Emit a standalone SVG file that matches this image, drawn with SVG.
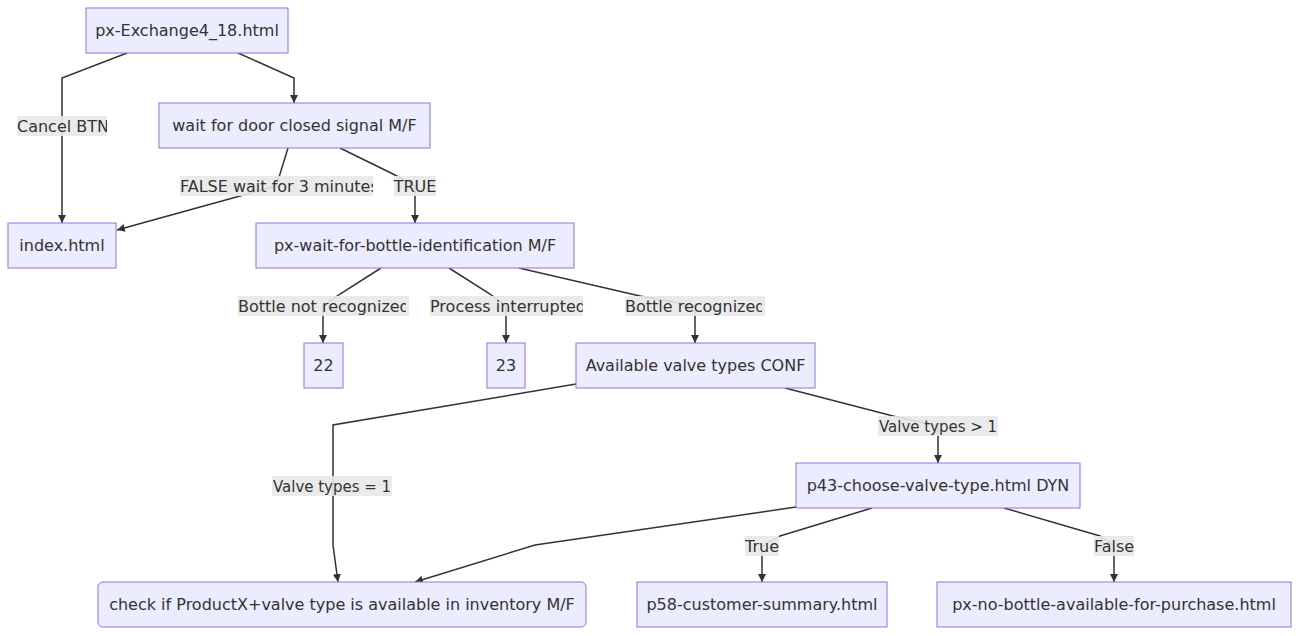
<svg xmlns="http://www.w3.org/2000/svg" width="1298" height="636" viewBox="0 0 1298 636">
<style>
.node rect{fill:#ECECFF;stroke:#9370DB;stroke-width:1}
.node text,.lbl text{font-family:"DejaVu Sans",sans-serif;font-size:16px;fill:#333;text-anchor:middle}
.edge{fill:none;stroke:#333;stroke-width:1.5;marker-end:url(#arr)}
.lbl rect{fill:#e8e8e8;fill-opacity:0.9}
</style>
<defs>
<marker id="arr" viewBox="0 0 10 10" refX="10" refY="5" markerWidth="8" markerHeight="8" markerUnits="userSpaceOnUse" orient="auto">
<path d="M0,0 L10,5 L0,10 z" fill="#333"/>
</marker>
<clipPath id="c1"><rect x="238" y="296" width="168" height="20"/></clipPath>
<clipPath id="c2"><rect x="430" y="296" width="153" height="20"/></clipPath>
<clipPath id="c3"><rect x="625" y="296" width="137" height="20"/></clipPath>
<clipPath id="c4"><rect x="180" y="176" width="193" height="20"/></clipPath>
<clipPath id="c5"><rect x="17" y="116" width="90" height="20"/></clipPath>
</defs>
<g id="connectors">
<path class="edge" d="M127,53 L62,78 L62,223"/>
<path class="edge" d="M238,53 L294,78 L294,103"/>
<path class="edge" d="M288,148 L280,174 L276,186 L240,196 L117,230"/>
<path class="edge" d="M340,148 L393,174 L415,186 L415,223"/>
<path class="edge" d="M381,268 L340,294 L323,306 L323,343"/>
<path class="edge" d="M449,268 L490,294 L506,306 L506,343"/>
<path class="edge" d="M519,268 L640,296 L695,306 L695,343"/>
<path class="edge" d="M576,384 L333,425 L333,545 L338,582"/>
<path class="edge" d="M785,388 L893,416 L938,426 L938,463"/>
<path class="edge" d="M796,507 L535,545 L415,582"/>
<path class="edge" d="M872,508 L780,536 L762,546 L762,582"/>
<path class="edge" d="M1004,508 L1100,536 L1114,546 L1114,582"/>
</g>
<g id="edge-labels">
<g class="lbl"><rect x="17" y="116" width="90" height="20"/><text x="17" y="132" style="text-anchor:start" clip-path="url(#c5)">Cancel BTN</text></g>
<g class="lbl"><rect x="180" y="176" width="193" height="20"/><text x="180" y="192" style="text-anchor:start" clip-path="url(#c4)">FALSE wait for 3 minutes</text></g>
<g class="lbl"><rect x="394" y="176" width="42" height="20"/><text x="415" y="192">TRUE</text></g>
<g class="lbl"><rect x="238" y="296" width="171" height="20"/><text x="238" y="312" style="text-anchor:start" clip-path="url(#c1)">Bottle not recognized</text></g>
<g class="lbl"><rect x="430" y="296" width="153" height="20"/><text x="430" y="312" style="text-anchor:start" clip-path="url(#c2)">Process interrupted</text></g>
<g class="lbl"><rect x="625" y="296" width="140" height="20"/><text x="625" y="312" style="text-anchor:start" clip-path="url(#c3)">Bottle recognized</text></g>
<g class="lbl"><rect x="272" y="476" width="120" height="20"/><text x="332" y="492" textLength="118" lengthAdjust="spacingAndGlyphs">Valve types = 1</text></g>
<g class="lbl"><rect x="878" y="416" width="120" height="20"/><text x="938" y="432" textLength="118" lengthAdjust="spacingAndGlyphs">Valve types &gt; 1</text></g>
<g class="lbl"><rect x="745" y="536" width="34" height="20"/><text x="762" y="552">True</text></g>
<g class="lbl"><rect x="1094" y="536" width="40" height="20"/><text x="1114" y="552">False</text></g>
</g>
<g id="n-exchange" class="node"><rect x="86" y="8" width="202" height="45"/><text x="187" y="36">px-Exchange4_18.html</text></g>
<g id="n-door" class="node"><rect x="159" y="103" width="271" height="45"/><text x="294.5" y="131">wait for door closed signal M/F</text></g>
<g id="n-index" class="node"><rect x="8" y="223" width="108" height="45"/><text x="62" y="251">index.html</text></g>
<g id="n-bottleid" class="node"><rect x="256" y="223" width="318" height="45"/><text x="415" y="251">px-wait-for-bottle-identification M/F</text></g>
<g id="n-22" class="node"><rect x="304" y="343" width="39" height="45"/><text x="323.5" y="371">22</text></g>
<g id="n-23" class="node"><rect x="487" y="343" width="38" height="45"/><text x="506" y="371">23</text></g>
<g id="n-avail" class="node"><rect x="576" y="343" width="239" height="45"/><text x="695.5" y="371">Available valve types CONF</text></g>
<g id="n-p43" class="node"><rect x="796" y="463" width="284" height="45"/><text x="938" y="491">p43-choose-valve-type.html DYN</text></g>
<g id="n-check" class="node"><rect x="98" y="582" width="488" height="45" rx="5" ry="5"/><text x="342" y="610">check if ProductX+valve type is available in inventory M/F</text></g>
<g id="n-p58" class="node"><rect x="637" y="582" width="250" height="45"/><text x="762" y="610">p58-customer-summary.html</text></g>
<g id="n-nobottle" class="node"><rect x="937" y="582" width="354" height="45"/><text x="1114" y="610">px-no-bottle-available-for-purchase.html</text></g>
</svg>
